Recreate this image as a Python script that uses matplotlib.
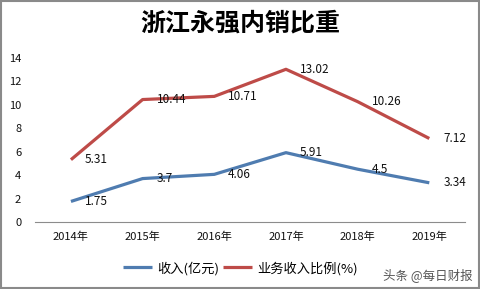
import matplotlib
matplotlib.use("Agg")
import matplotlib.pyplot as plt
from matplotlib.patches import Rectangle

plt.rcParams['font.family'] = ['Noto Sans CJK SC', 'DejaVu Sans']

years = ['2014年', '2015年', '2016年', '2017年', '2018年', '2019年']
revenue = [1.75, 3.7, 4.06, 5.91, 4.5, 3.34]
ratio = [5.31, 10.44, 10.71, 13.02, 10.26, 7.12]
title = '浙江永强内销比重'
label_rev = '收入(亿元)'
label_ratio = '业务收入比例(%)'
blue = '#4F7CB0'
red = '#BE4B48'

fig = plt.figure(figsize=(4.81, 2.89), dpi=100)
ax = fig.add_axes([0.073, 0.232, 0.894, 0.568])
x = list(range(len(years)))
l1, = ax.plot(x, revenue, color=blue, lw=2.3, solid_capstyle='butt', label=label_rev)
l2, = ax.plot(x, ratio, color=red, lw=2.3, solid_capstyle='butt', label=label_ratio)
for xi, v in zip(x, revenue):
    ax.annotate(f'{v:g}', (xi, v), xytext=(10, 0), textcoords='offset points',
                ha='left', va='center', fontsize=8.5, color='#111111')
for xi, v in zip(x, ratio):
    ax.annotate(f'{v:g}', (xi, v), xytext=(10, 0), textcoords='offset points',
                ha='left', va='center', fontsize=8.5, color='#111111')

ax.set_xlim(-0.5, 5.5)
ax.set_ylim(0, 14)
ax.set_yticks(range(0, 15, 2))
ax.set_xticks(x)
ax.set_xticklabels(years)
for s in ['top', 'right', 'left']:
    ax.spines[s].set_visible(False)
ax.spines['bottom'].set_color('#8c8c8c')
ax.tick_params(axis='both', length=0, labelsize=8, colors='#111111')
ax.tick_params(axis='y', pad=10)
ax.tick_params(axis='x', pad=7)

fig.text(0.5, 0.918, title, ha='center', va='center', fontsize=18, fontweight='bold')
fig.legend(handles=[l1, l2], loc='center', bbox_to_anchor=(0.5, 0.072), ncol=2,
           frameon=False, fontsize=9.5, handlelength=2.2, columnspacing=0.3,
           handletextpad=0.4)
fig.text(0.983, 0.048, '头条 @每日财报', ha='right', va='center', fontsize=9, color='#555555')
fig.patches.append(Rectangle((0.002, 0.003), 0.994, 0.993, transform=fig.transFigure,
                             fill=False, edgecolor='#8a8a8a', lw=1.5))
fig.savefig('out.png', dpi=100)
